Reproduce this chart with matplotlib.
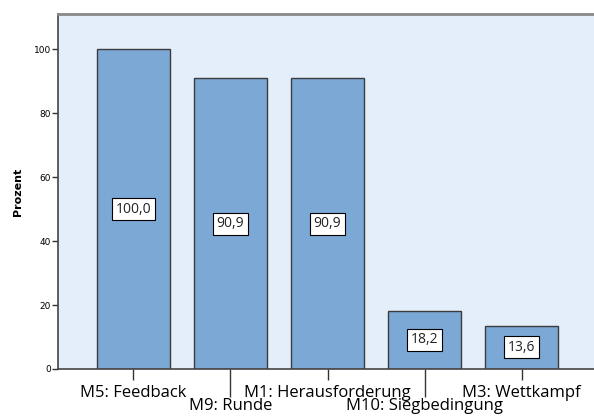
import matplotlib
matplotlib.use("Agg")
import matplotlib.pyplot as plt
import numpy as np

categories = ["M5: Feedback", "M9: Runde", "M1: Herausforderung",
              "M10: Siegbedingung", "M3: Wettkampf"]
values = [100.0, 90.9, 90.9, 18.2, 13.6]
value_labels = ["100,0", "90,9", "90,9", "18,2", "13,6"]
yticks = [0, 20, 40, 60, 80, 100]

plt.rcParams['font.family'] = ['Open Sans', 'DejaVu Sans']

fig = plt.figure(figsize=(5.94, 4.17), dpi=100)
ax = fig.add_axes([58/594, 1-369/417, 1-58/594, (369-14)/417])
ax.set_facecolor('#E3EEFA')

x = np.arange(len(categories))
ax.bar(x, values, width=0.75, color='#7BA8D5', edgecolor='#3C3C3C', linewidth=1.0, zorder=2)

for xi, v, lab in zip(x, values, value_labels):
    ax.text(xi, v/2, lab, ha='center', va='center', fontsize=10, color='#222222', zorder=3,
            bbox=dict(boxstyle='square,pad=0.25', facecolor='white', edgecolor='black', linewidth=0.8))

ax.set_xlim(-0.778, 4.747)
ax.set_ylim(0, 111)

# staggered tick labels
major = x[::2]
minor = x[1::2]
ax.set_xticks(major)
ax.set_xticklabels([categories[i] for i in major], fontsize=12)
ax.set_xticks(minor, minor=True)
ax.set_xticklabels([categories[i] for i in minor], minor=True, fontsize=12)
ax.tick_params(axis='x', which='major', length=8, width=1, color='#333333', pad=3.5)
ax.tick_params(axis='x', which='minor', length=20.5, width=1, color='#333333', pad=0.5)

ax.set_yticks(yticks)
ax.set_yticklabels([str(t) for t in yticks], fontsize=6.5, family=['DejaVu Sans'])
ax.tick_params(axis='y', length=4, width=1, color='#333333', pad=1)

ax.set_ylabel('Prozent', fontsize=8, fontweight='bold', family=['DejaVu Sans'], labelpad=8)

ax.spines['right'].set_visible(False)
for s in ['left', 'bottom']:
    ax.spines[s].set_color('#444444')
    ax.spines[s].set_linewidth(1.2)
ax.spines['top'].set_color('#888888')
ax.spines['top'].set_linewidth(2)

fig.savefig('out.png', dpi=100)
